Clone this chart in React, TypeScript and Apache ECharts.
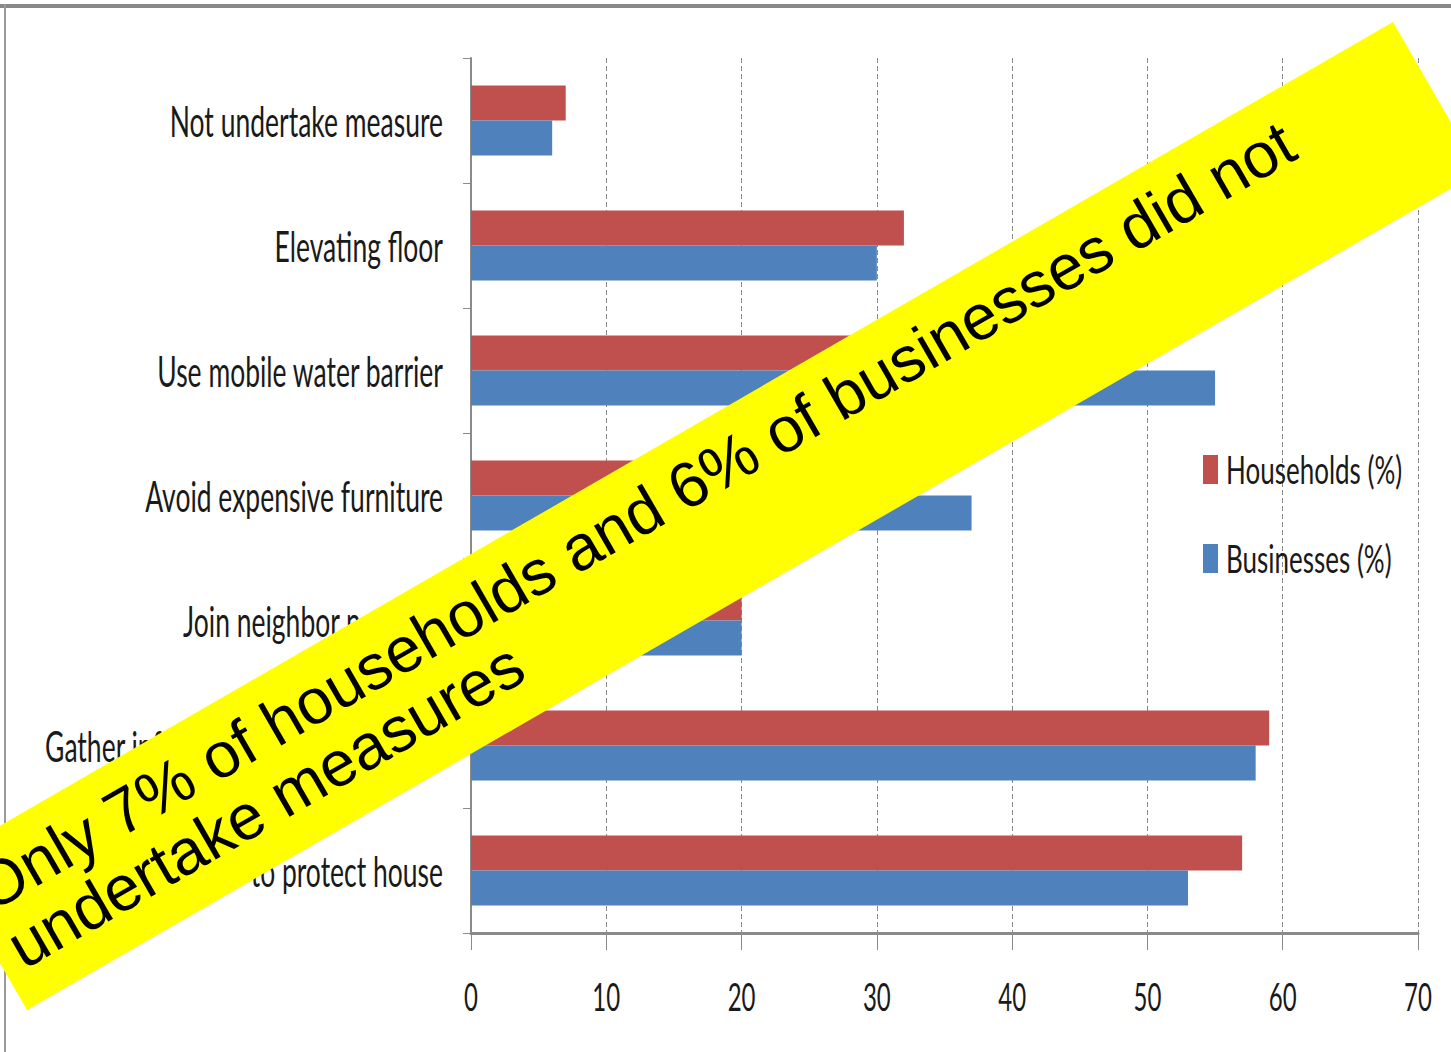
import React, { useEffect, useRef } from "react";
import * as echarts from "echarts";

const categories = [
  "Not undertake measure",
  "Elevating floor",
  "Use mobile water barrier",
  "Avoid expensive furniture",
  "Join neighbor network",
  "Gather information about flooding",
  "Use sandbags to protect house",
];
const seriesNames = ["Households (%)", "Businesses (%)"];
const households = [7, 32, 45, 30, 20, 59, 57];
const businesses = [6, 30, 55, 37, 20, 58, 53];
const xMin = 0;
const xMax = 70;
const xInterval = 10;
const bannerLines = [
  "Only 7% of households and 6% of businesses did not",
  "undertake measures",
];

const LABEL_FONT = "Lato, 'Open Sans', 'Noto Sans', sans-serif";
const BANNER_FONT = "'Liberation Sans', Arial, sans-serif";

// vertical stretch factors to mimic the tall, condensed lettering of the original slide
const STRETCH_CAT = 1.58;
const STRETCH_TICK = 1.65;
const STRETCH_LEGEND = 1.45;

function stretchTexts(root: HTMLElement) {
  const catSet = new Set(categories);
  const legSet = new Set(seriesNames);
  const tickSet = new Set<string>();
  for (let v = xMin; v <= xMax; v += xInterval) tickSet.add(String(v));
  root.querySelectorAll("text").forEach((node) => {
    const t = node as SVGTextElement;
    const content = (t.textContent || "").trim();
    let s = 0;
    if (catSet.has(content)) s = STRETCH_CAT;
    else if (legSet.has(content)) s = STRETCH_LEGEND;
    else if (tickSet.has(content)) s = STRETCH_TICK;
    if (!s) return;
    const cur = t.getAttribute("transform") || "";
    if ((t as any).dataset && t.dataset.applied === cur) return;
    let cy = 0;
    try {
      const bb = t.getBBox();
      cy = bb.y + bb.height / 2;
    } catch (e) {
      cy = 0;
    }
    const next = `${cur} translate(0 ${cy}) scale(1 ${s}) translate(0 ${-cy})`;
    t.setAttribute("transform", next);
    t.dataset.applied = next;
  });
}

export default function App() {
  const ref = useRef<HTMLDivElement>(null);
  useEffect(() => {
    if (!ref.current) return;
    const el = ref.current;
    const chart = echarts.init(el, undefined, { renderer: "svg" });
    chart.setOption({
      animation: false,
      backgroundColor: "#ffffff",
      grid: {
        left: 471,
        right: 33,
        top: 58,
        bottom: 119,
        containLabel: false,
        outerBoundsMode: "none",
      },
      legend: {
        orient: "vertical",
        left: 1203,
        top: 455,
        padding: 0,
        itemWidth: 15,
        itemHeight: 29,
        itemGap: 60,
        icon: "rect",
        data: seriesNames,
        textStyle: {
          fontFamily: LABEL_FONT,
          fontSize: 26,
          color: "#1a1a1a",
          padding: [0, 0, 0, 3],
        },
      },
      xAxis: {
        type: "value",
        min: xMin,
        max: xMax,
        interval: xInterval,
        axisLine: { show: true, lineStyle: { color: "#8a8a8a", width: 3 } },
        axisTick: { show: true, length: 17, lineStyle: { color: "#8a8a8a", width: 1 } },
        axisLabel: {
          margin: 51,
          fontFamily: LABEL_FONT,
          fontSize: 24,
          color: "#1a1a1a",
        },
        splitLine: {
          show: true,
          lineStyle: { color: "#8a8a8a", width: 1, type: [5, 3] },
        },
      },
      yAxis: {
        type: "category",
        inverse: true,
        data: categories,
        axisLine: { show: true, lineStyle: { color: "#8a8a8a", width: 2 } },
        axisTick: { show: true, length: 8, lineStyle: { color: "#8a8a8a", width: 1 } },
        axisLabel: {
          margin: 28,
          fontFamily: LABEL_FONT,
          fontSize: 26.5,
          color: "#1a1a1a",
        },
        splitLine: { show: false },
      },
      series: [
        {
          name: seriesNames[0],
          type: "bar",
          data: households,
          barWidth: 35,
          barGap: "0%",
          itemStyle: { color: "#C0504D" },
        },
        {
          name: seriesNames[1],
          type: "bar",
          data: businesses,
          barWidth: 35,
          barGap: "0%",
          itemStyle: { color: "#4F81BD" },
        },
      ],
      graphic: [
        {
          type: "line",
          z: 50,
          shape: { x1: 0, y1: 6, x2: 1451, y2: 6 },
          style: { stroke: "#888888", lineWidth: 4 },
        },
        {
          type: "line",
          z: 50,
          shape: { x1: 5, y1: 4, x2: 5, y2: 1052 },
          style: { stroke: "#9a9a9a", lineWidth: 2 },
        },
        {
          type: "polygon",
          z: 100,
          shape: {
            points: [
              [-59.5, 860],
              [1393, 22],
              [1479.5, 172],
              [27, 1010],
            ],
          },
          style: { fill: "#FFFF00" },
        },
        {
          type: "group",
          z: 101,
          x: -9,
          y: 913,
          rotation: Math.PI / 6,
          children: bannerLines.map((t, i) => ({
            type: "text",
            z: 101,
            x: 0,
            y: -22 + i * 66,
            style: {
              text: t,
              fontFamily: BANNER_FONT,
              fontSize: 64,
              fill: "#000000",
              textAlign: "left",
              textVerticalAlign: "middle",
              align: "left",
              verticalAlign: "middle",
            },
          })),
        },
      ],
    });
    stretchTexts(el);
    const raf = requestAnimationFrame(() => stretchTexts(el));
    return () => {
      cancelAnimationFrame(raf);
      chart.dispose();
    };
  }, []);
  return (
    <div
      ref={ref}
      style={{ position: "absolute", left: 0, top: 0, width: 1451, height: 1052 }}
    />
  );
}
